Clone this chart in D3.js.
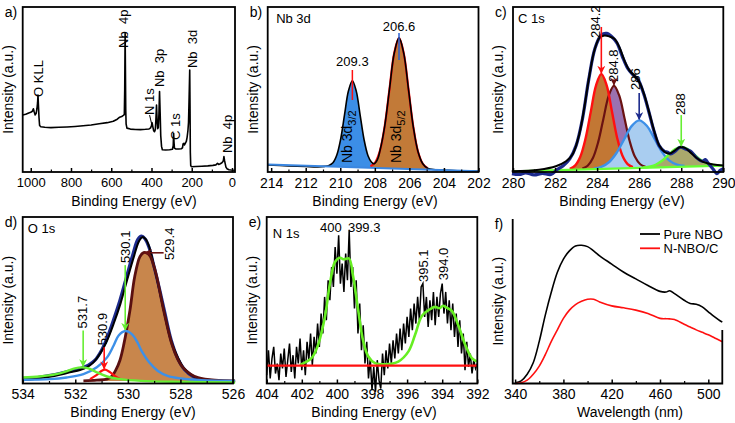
<!DOCTYPE html>
<html><head><meta charset="utf-8">
<script src="https://cdn.jsdelivr.net/npm/d3@7"></script>
<style>
body{margin:0;background:#fff;}
svg{display:block;font-family:"Liberation Sans",Arial,Helvetica,sans-serif;}
</style></head><body>
<svg id="chart" width="735" height="423"></svg>
<script>
// ---------------- DATA ----------------
// (a) XPS survey: [binding energy, intensity]
const surveyData = [[1040,34.5],[1025,35.0],[1010,35.8],[1000,36.2],[992,36.8],[987,38.3],[983,36.5],[978,34.6],[973,35.5],[969,38.5],[966,42],[964,46.7],[962,41],[959,33],[956,28.2],[950,27.4],[930,27.1],[900,26.9],[860,27.1],[820,27.3],[780,27.6],[740,28.0],[700,28.5],[660,29.2],[620,29.9],[590,30.8],[570,32],[558,33.2],[548,33.6],[540,34.3],[535,34.8],[533,50],[531,84],[529.5,62],[528,38],[526,29],[522,26.6],[505,26.0],[480,25.8],[455,25.7],[430,25.9],[412,26.1],[404,26.8],[400,28.2],[397,29.9],[393,27.2],[389,25.0],[385,24.4],[381,25.6],[378,32],[375,40.6],[372,31],[369,26.2],[366,27],[363,35],[360,48.7],[357,36],[354,22],[350,15.5],[346,13.5],[330,13.3],[310,13.5],[296,13.8],[292,16],[290,23.4],[288,18],[286,14.5],[280,14.0],[265,13.9],[252,14.1],[246,14.6],[243,17],[239,17.4],[236,16.4],[232,17.3],[227,18.5],[223,21],[219,25],[216,30],[213,45],[210,61.8],[208.5,40],[207,12],[205,4],[202,3.2],[180,3.3],[150,3.5],[120,3.7],[95,4.0],[80,4.3],[72,5.2],[66,4.6],[58,5.0],[50,5.6],[46,6.2],[43,6.8],[40,9.3],[37,7],[34,5.2],[30,3.0],[25,2.0],[15,1.4],[5,1.2],[-15,1.1]];
const surveyTicks = [1000,800,600,400,200,0];
const surveyMinor = [900,700,500,300,100];
const surveyLabels = ["O KLL","Nb  4p","N 1s","Nb  3p","C 1s","Nb  3d","Nb  4p"];
const surveyLabelE = [964,531,397,360,290,210,40];

// (b) Nb 3d
const nb3dBaseE = [214.2,202];
const nb3dBaseI = [4.5,0.4];
const nb3d32 = [[210.65,3.96],[210.425,5.6],[210.2,10.3],[209.975,20.1],[209.75,34.9],[209.525,49.2],[209.3,55.3],[209.075,49.0],[208.85,34.5],[208.625,19.7],[208.4,9.7],[208.175,4.8],[207.95,3.0]];
const nb3d52 = [[208.25,3.4],[207.975,5.9],[207.7,13.0],[207.425,28.0],[207.15,50.3],[206.875,72.1],[206.6,81.3],[206.325,71.9],[206.05,49.9],[205.775,27.4],[205.5,12.3],[205.225,5.0],[204.95,2.3]];
const nb3dEnv = [[214.2,4.2],[213,3.7],[212,3.3],[211.3,3.1],[210.9,3.4],[210.65,4.0],[210.425,5.6],[210.2,10.3],[209.975,20.1],[209.75,34.9],[209.525,49.2],[209.3,55.3],[209.075,49.0],[208.85,34.5],[208.625,19.7],[208.4,10.0],[208.2,6.0],[208.05,5.0],[207.85,7.5],[207.7,13.0],[207.425,28.0],[207.15,50.3],[206.875,72.1],[206.6,81.3],[206.325,71.9],[206.05,49.9],[205.775,27.4],[205.5,12.3],[205.225,5.0],[204.95,2.3],[204.5,1.4],[203.5,0.9],[202,0.5]];
const nb3dTicks = [214,212,210,208,206,204,202];
const nb3dMinor = [213,211,209,207,205,203];

// (c) C 1s
const c1sBaseE = [280,290];
const c1sBaseI = [0.4,3.9];
const c1s2842 = [[282.7,1.95],[282.95,3.9],[283.2,9.3],[283.45,20.3],[283.7,36.6],[283.95,52.5],[284.2,59.4],[284.45,52.7],[284.7,37.0],[284.95,20.8],[285.2,10.0],[285.45,4.8],[285.7,3.0]];
const c1s2848 = [[283.3,2.1],[283.55,3.8],[283.8,8.5],[284.05,18.1],[284.3,32.3],[284.55,46.2],[284.8,52.2],[285.05,46.4],[285.3,32.7],[285.55,18.6],[285.8,9.2],[286.05,4.7],[286.3,3.2]];
const c1s286 = [[283.84,2.06],[284.2,3.1],[284.56,5.9],[284.92,11.5],[285.28,19.7],[285.64,27.8],[286.0,31.3],[286.36,28.0],[286.72,20.3],[287.08,12.2],[287.44,6.9],[287.8,4.4],[288.16,3.6]];
const c1s288 = [[286.17,2.7],[286.475,3.2],[286.78,4.4],[287.085,6.8],[287.39,10.3],[287.695,13.7],[288.0,15.2],[288.305,13.9],[288.61,10.7],[288.915,7.4],[289.22,5.2],[289.525,4.3],[289.83,4.0]];
const c1sEnv = [[279.94,0.4],[281.24,1.4],[282.04,3.5],[282.52,6.5],[282.83,10.6],[283.15,22.8],[283.39,39.0],[283.63,58.3],[283.87,73.6],[284.11,81.3],[284.35,82.7],[284.59,82.1],[284.82,80.7],[285.06,75.6],[285.3,67.5],[285.54,61.4],[285.78,58.3],[286.02,54.3],[286.26,46.1],[286.5,35.0],[286.74,23.8],[286.97,15.7],[287.21,12.2],[287.45,11.2],[287.69,13.0],[287.93,15.0],[288.17,14.6],[288.41,12.2],[288.73,8.5],[289.04,6.1],[289.52,4.5],[290,3.9]];
const c1sRaw = [[279.95,-1],[280.3,-1.5],[280.6,-0.5],[281.0,-1.8],[281.4,-0.8],[281.8,-1.5],[282.1,1.5],[282.4,4],[282.7,8],[283.0,16],[283.3,32],[283.6,56],[283.9,75],[284.2,83],[284.45,84],[284.7,82],[284.95,78],[285.2,70],[285.45,63],[285.7,59],[285.95,56],[286.2,48],[286.45,37],[286.7,25],[286.95,16],[287.2,12.5],[287.35,12.0],[287.5,11],[287.7,12.5],[287.95,15],[288.2,14],[288.45,12.5],[288.7,9],[289.0,6.5],[289.15,7.5],[289.3,5],[289.5,2],[289.7,-1],[289.85,1],[290,2]];
const c1sTicks = [280,282,284,286,288,290];
const c1sMinor = [281,283,285,287,289];
const c1sPeaks = [284.2,284.8,286,288];

// (d) O 1s
const o1sBaseE = [534,526];
const o1sBaseI = [1.8,1.2];
const o1s5294 = [[531.69,1.6],[531.18,2.0],[530.8,2.6],[530.6,4.5],[530.47,7.7],[530.3,14],[530.15,23.8],[529.92,44],[529.74,64.1],[529.54,76.2],[529.4,78.6],[529.28,78.4],[529.15,76.5],[529.02,71],[528.9,64.1],[528.64,44],[528.33,23.8],[528.1,14.5],[527.91,9.7],[527.6,5.5],[527.33,3.6],[526.69,2.0],[525.92,1.6]];
const o1s5301 = [[534,2.2],[532.97,2.6],[532.33,3.6],[531.69,5.6],[531.18,9.7],[530.79,15.7],[530.54,22.8],[530.35,28.8],[530.09,31.5],[529.83,29.4],[529.64,24.8],[529.45,18.8],[529.19,12.7],[528.87,7.7],[528.49,4.6],[527.97,3.0],[527.2,2.0],[525.92,1.6]];
const o1s5309 = [[531.44,2.6],[531.18,5.2],[530.99,7.7],[530.86,8.3],[530.67,6.7],[530.47,4.2],[530.28,2.6]];
const o1s5317 = [[534,3.6],[533.36,4.2],[532.72,5.6],[532.33,7.3],[532.01,9.1],[531.76,9.7],[531.5,9.1],[531.18,6.7],[530.79,4.2],[530.28,2.6],[529.5,1.6],[528,1.0],[525.92,0.6]];
const o1sEnv = [[534,2.0],[533.62,2.6],[532.97,4.0],[532.59,5.2],[532.21,6.7],[531.82,8.1],[531.56,9.7],[531.31,12.7],[531.05,18.1],[530.79,25.8],[530.54,35.9],[530.28,48.0],[530.03,62.1],[529.77,76.2],[529.58,85.3],[529.45,87.9],[529.32,86.7],[529.19,82.3],[529.0,70.2],[528.81,57.1],[528.62,42.9],[528.36,25.8],[528.1,15.7],[527.85,8.7],[527.46,4.0],[526.95,2.0],[525.92,1.2]];
const o1sRaw = [[534,3],[533.5,3.5],[533,4.8],[532.6,6],[532.2,7.5],[531.8,9],[531.5,11],[531.25,14],[531.0,20],[530.8,27],[530.55,38],[530.3,50],[530.05,64],[529.8,78],[529.62,86.5],[529.48,88.5],[529.35,87],[529.2,82],[529.0,70],[528.8,57],[528.6,43],[528.35,26],[528.1,15],[527.85,8.5],[527.5,4],[527,2],[526,1.2]];
const o1sTicks = [534,532,530,528,526];
const o1sMinor = [533,531,529,527];

// (e) N 1s
const n1sE = [404.0,403.9,403.8,403.7,403.6,403.5,403.4,403.3,403.2,403.1,403.0,402.9,402.8,402.7,402.6,402.5,402.4,402.3,402.2,402.1,402.0,401.9,401.8,401.7,401.6,401.5,401.4,401.3,401.2,401.1,401.0,400.9,400.8,400.7,400.6,400.5,400.4,400.3,400.2,400.1,400.0,399.9,399.8,399.7,399.6,399.5,399.4,399.3,399.2,399.1,399.0,398.9,398.8,398.7,398.6,398.5,398.4,398.3,398.2,398.1,398.0,397.9,397.8,397.7,397.6,397.5,397.4,397.3,397.2,397.1,397.0,396.9,396.8,396.7,396.6,396.5,396.4,396.3,396.2,396.1,396.0,395.9,395.8,395.7,395.6,395.5,395.4,395.3,395.2,395.1,395.0,394.9,394.8,394.7,394.6,394.5,394.4,394.3,394.2,394.1,394.0,393.9,393.8,393.7,393.6,393.5,393.4,393.3,393.2,393.1,393.0,392.9,392.8,392.7,392.6,392.5,392.4,392.3,392.2,392.1,392.0];
const n1sI = [5,20,3,15,22,6,12,2,18,9,21,4,14,24,7,17,3,22,12,27,8,20,5,25,14,30,11,28,18,36,22,42,30,52,38,62,50,70,58,82,66,89,60,72,55,78,62,92,58,70,45,62,30,48,20,35,12,25,3,15,-4,10,-5,14,2,-3,18,5,20,9,24,12,26,15,30,18,33,20,36,24,40,28,45,32,48,36,52,38,58,60,40,52,34,50,38,55,35,52,40,54,60,42,55,36,50,32,48,28,42,22,38,18,30,8,25,10,18,6,14,9,12];
const n1sFit = [[402.11,11.2],[401.45,15.2],[401.07,23.3],[400.69,39.6],[400.4,59.8],[400.11,73.0],[399.83,75.5],[399.6,74.6],[399.31,75.1],[399.07,63.9],[398.78,43.6],[398.5,25.4],[398.21,16.2],[397.83,12.2],[397.26,11.6],[396.5,13.2],[395.92,19.3],[395.54,29.4],[395.16,40.6],[394.69,44.6],[394.4,46],[394.15,45.2],[393.95,46.7],[393.75,45.5],[393.45,43.6],[393.07,34.5],[392.69,23.3],[392.31,15.2],[392.02,13.2]];
const n1sBase = 10.75;
const n1sTicks = [404,402,400,398,396,394,392];
const n1sMinor = [403,401,399,397,395,393];

// (f) photoluminescence
const plWave = [340,345,350,355,360,365,370,375,380,385,390,395,400,405,410,420,430,440,450,460,465,468,472,480,485,490,495,500,505,510,511.6];
const plPure = [0.4,1.6,5.6,12.6,25.6,41.6,55.6,67.6,75.6,80.6,83.6,84.0,83.2,80.6,77.6,72.6,67.6,63.6,59.6,56.0,55.6,56.4,54.6,50.6,48.6,48.2,46.6,43.6,40.6,38.0,37.4];
const plN = [0,0.4,2,5.6,10.6,17.6,25.6,32.6,39.6,44.6,48.0,50.0,51.2,51.2,49.6,47.2,46.0,44.6,42.6,39.6,39.4,39.3,38.9,36.0,34.3,32.6,31.1,29.6,27.8,26.0,25.5];
const plSeries = ["Pure NBO","N-NBO/C"];
const plTicks = [340,380,420,460,500];
const plMinor = [360,400,440,480];

// ---------------- DRAWING ----------------
const svg = d3.select('#chart');
const defs = svg.append('defs');
function marker(id, color){
  defs.append('marker').attr('id',id).attr('viewBox','0 0 10 10').attr('refX',9).attr('refY',5)
    .attr('markerWidth',8).attr('markerHeight',8).attr('markerUnits','userSpaceOnUse').attr('orient','auto')
    .append('path').attr('d','M0,0 L10,5 L0,10 L3,5 Z').attr('fill',color);
}
marker('mRed','#ff1010'); marker('mMaroon','#6a1212'); marker('mNavy','#1c2a8c'); marker('mGreen','#66ee33');

function panel(p){
  const x = d3.scaleLinear().domain(p.xd).range([p.l,p.r]);
  const y = d3.scaleLinear().domain([0,100]).range([p.b,p.t]);
  const data = svg.append('g');
  const ax = svg.append('g').attr('transform',`translate(0,${p.b})`);
  ax.call(d3.axisBottom(x).tickValues(p.major).tickSize(-4).tickPadding(6).tickFormat(d3.format('d')));
  ax.select('.domain').remove();
  ax.attr('font-size',p.fs||14).attr('font-family',null);
  ax.selectAll('line').attr('stroke','#000').attr('stroke-width',1.5);
  ax.selectAll('text').attr('fill','#000');
  const mx = svg.append('g').attr('transform',`translate(0,${p.b})`);
  mx.call(d3.axisBottom(x).tickValues(p.minor).tickSize(-2.5).tickFormat(''));
  mx.select('.domain').remove();
  mx.selectAll('line').attr('stroke','#000').attr('stroke-width',1.2);
  if(p.open){
    svg.append('path').attr('d',`M${p.l},${p.t}V${p.b}H${p.r}V${p.rt}`).attr('fill','none').attr('stroke','#000').attr('stroke-width',1.8);
  } else {
    svg.append('rect').attr('x',p.l).attr('y',p.t).attr('width',p.r-p.l).attr('height',p.b-p.t)
      .attr('fill','none').attr('stroke','#000').attr('stroke-width',1.8);
  }
  svg.append('text').attr('x',p.titleX).attr('y',p.b+33.5).attr('text-anchor','middle').attr('font-size',14).text(p.title);
  svg.append('text').attr('transform',`translate(${p.l-10},${(p.t+p.b)/2}) rotate(-90)`).attr('text-anchor','middle')
    .attr('font-size',14).text('Intensity (a.u.)');
  svg.append('text').attr('x',p.l-18).attr('y',p.t+9.5).attr('font-size',14).text(p.letter);
  const ann = svg.append('g');
  return {x,y,data,ann};
}
function vtext(layer,x,y,str,size){
  return layer.append('text').attr('transform',`translate(${x},${y}) rotate(-90)`).attr('font-size',size||13)
    .style('white-space','pre').text(str);
}
function arrow(layer,x1,y1,x2,y2,color,mk){
  layer.append('line').attr('x1',x1).attr('y1',y1).attr('x2',x2).attr('y2',y2)
    .attr('stroke',color).attr('stroke-width',1.6).attr('marker-end',`url(#${mk})`);
}
const TOPT=7, TOPB=172, BOTT=217, BOTB=383.5;

// ---- (a)
{
  const P = panel({l:22.7,r:235,t:TOPT,b:TOPB,xd:[1040,-15],major:surveyTicks,minor:surveyMinor,fs:13,
    title:'Binding Energy (eV)',titleX:134,letter:'a)'});
  const line = d3.line().x(d=>P.x(d[0])).y(d=>P.y(d[1]));
  P.data.append('path').attr('d',line(surveyData)).attr('fill','none').attr('stroke','#000').attr('stroke-width',1.6).attr('stroke-linejoin','round');
  const offs = [4.7,2.6,2,4.8,6,6.8,7.8];
  const bottoms = [45.5,75.2,34.5,51.5,19.4,63,11.5];
  surveyLabels.forEach((s,i)=>vtext(P.ann,P.x(surveyLabelE[i])+offs[i],P.y(bottoms[i]),s,13));
  P.ann.append('line').attr('x1',P.x(397)-2.5).attr('y1',P.y(34.5)).attr('x2',P.x(397)).attr('y2',P.y(28))
    .attr('stroke','#000').attr('stroke-width',1);
}
// ---- (b)
{
  const P = panel({l:267.7,r:478.5,t:TOPT,b:TOPB,xd:[214.2,202],major:nb3dTicks,minor:nb3dMinor,
    title:'Binding Energy (eV)',titleX:375,letter:'b)'});
  const base = d3.scaleLinear().domain(nb3dBaseE).range(nb3dBaseI);
  const area = d3.area().x(d=>P.x(d[0])).y0(d=>P.y(base(d[0]))).y1(d=>P.y(d[1])).curve(d3.curveCatmullRom);
  const line = d3.line().x(d=>P.x(d[0])).y(d=>P.y(d[1])).curve(d3.curveCatmullRom);
  P.data.append('path').attr('d',area(nb3d32)).attr('fill','#3c8ee6');
  P.data.append('path').attr('d',area(nb3d52)).attr('fill','#c27a38');
  P.data.append('path').attr('d',line(nb3d52)).attr('fill','none').attr('stroke','#ff1010').attr('stroke-width',2.2);
  P.data.append('path').attr('d',line(nb3dEnv)).attr('fill','none').attr('stroke','#000').attr('stroke-width',1.6);
  P.data.append('path').attr('d',line(nb3dBaseE.map((e,i)=>[e,nb3dBaseI[i]]))).attr('fill','none').attr('stroke','#3a86e0').attr('stroke-width',2);
  P.ann.append('text').attr('x',P.x(nb3dTicks[0])+5).attr('y',23).attr('font-size',13).text('Nb 3d');
  P.ann.append('text').attr('x',P.x(209.3)).attr('y',66).attr('text-anchor','middle').attr('font-size',13).text('209.3');
  P.ann.append('line').attr('x1',P.x(209.3)).attr('x2',P.x(209.3)).attr('y1',70).attr('y2',100).attr('stroke','#ff1010').attr('stroke-width',1.5);
  P.ann.append('text').attr('x',P.x(206.6)).attr('y',31).attr('text-anchor','middle').attr('font-size',13).text('206.6');
  P.ann.append('line').attr('x1',P.x(206.6)).attr('x2',P.x(206.6)).attr('y1',33).attr('y2',60).attr('stroke','#2a5fd0').attr('stroke-width',1.5);
  const t1 = vtext(P.ann,P.x(209.3),163,'',14); t1.append('tspan').text('Nb 3d'); t1.append('tspan').attr('font-size',11).attr('dy',4).text('3/2');
  const t2 = vtext(P.ann,P.x(206.6)+2,163,'',14); t2.append('tspan').text('Nb 3d'); t2.append('tspan').attr('font-size',11).attr('dy',4).text('5/2');
}
// ---- (c)
{
  const P = panel({l:513,r:723.3,t:TOPT,b:TOPB,xd:[280,290],major:c1sTicks,minor:c1sMinor,
    title:'Binding Energy (eV)',titleX:622,letter:'c)'});
  const base = d3.scaleLinear().domain(c1sBaseE).range(c1sBaseI);
  const area = d3.area().x(d=>P.x(d[0])).y0(d=>P.y(base(d[0]))).y1(d=>P.y(d[1])).curve(d3.curveCatmullRom);
  const line = d3.line().x(d=>P.x(d[0])).y(d=>P.y(d[1])).curve(d3.curveCatmullRom);
  P.data.append('path').attr('d',area(c1s2848)).attr('fill','#9b72b0');
  P.data.append('path').attr('d',area(c1s2842)).attr('fill','#c27734');
  P.data.append('path').attr('d',area(c1s286)).attr('fill','#a9cdf0');
  P.data.append('path').attr('d',area(c1s288)).attr('fill','#a9a86c');
  P.data.append('path').attr('d',line(c1s2848)).attr('fill','none').attr('stroke','#6a1212').attr('stroke-width',2.2);
  P.data.append('path').attr('d',line(c1s2842)).attr('fill','none').attr('stroke','#ff1010').attr('stroke-width',2.4);
  P.data.append('path').attr('d',line(c1s286)).attr('fill','none').attr('stroke','#3d90e8').attr('stroke-width',2.4);
  P.data.append('path').attr('d',line(c1s288)).attr('fill','none').attr('stroke','#66ff33').attr('stroke-width',2.4);
  P.data.append('path').attr('d',line(c1sBaseE.map((e,i)=>[e,c1sBaseI[i]]))).attr('fill','none').attr('stroke','#66ff33').attr('stroke-width',2.2);
  P.data.append('path').attr('d',line(c1sRaw)).attr('fill','none').attr('stroke','#1c2a8c').attr('stroke-width',3.2);
  P.data.append('path').attr('d',line(c1sEnv)).attr('fill','none').attr('stroke','#000').attr('stroke-width',2);
  P.ann.append('text').attr('x',P.x(280)+5).attr('y',23).attr('font-size',13).text('C 1s');
  const col = ['#ff1010','#6a1212','#1c2a8c','#66ee33'], mk=['mRed','mMaroon','mNavy','mGreen'];
  const tOff=[-1,4,1,4], tBot=[81.2,54.5,49.7,34.5], aTop=[87.9,56,47.9,34.5], aEnd=[59.4,52.2,31.3,15.2];
  c1sPeaks.forEach((e,i)=>{
    vtext(P.ann,P.x(e)+tOff[i],P.y(tBot[i]),String(e),13);
    arrow(P.ann,P.x(e),P.y(aTop[i]),P.x(e),P.y(aEnd[i])-1,col[i],mk[i]);
  });
}
// ---- (d)
{
  const P = panel({l:22.7,r:233,t:BOTT,b:BOTB,xd:[534,526],major:o1sTicks,minor:o1sMinor,
    title:'Binding Energy (eV)',titleX:133,letter:'d)'});
  const base = d3.scaleLinear().domain(o1sBaseE).range(o1sBaseI);
  const area = d3.area().x(d=>P.x(d[0])).y0(d=>P.y(base(d[0]))).y1(d=>P.y(d[1])).curve(d3.curveCatmullRom);
  const line = d3.line().x(d=>P.x(d[0])).y(d=>P.y(d[1])).curve(d3.curveCatmullRom);
  P.data.append('path').attr('d',area(o1s5294)).attr('fill','#c8864c');
  P.data.append('path').attr('d',line(o1sRaw)).attr('fill','none').attr('stroke','#1c2a8c').attr('stroke-width',3.2);
  P.data.append('path').attr('d',line(o1sEnv)).attr('fill','none').attr('stroke','#000').attr('stroke-width',2);
  P.data.append('path').attr('d',line(o1s5294)).attr('fill','none').attr('stroke','#5a1010').attr('stroke-width',2.8);
  P.data.append('path').attr('d',line(o1s5301)).attr('fill','none').attr('stroke','#3d90e8').attr('stroke-width',2.4);
  P.data.append('path').attr('d',line(o1s5309)).attr('fill','none').attr('stroke','#ff1010').attr('stroke-width',2.2);
  P.data.append('path').attr('d',line(o1s5317)).attr('fill','none').attr('stroke','#66ee33').attr('stroke-width',2.4);
  P.ann.append('text').attr('x',P.x(534)+5).attr('y',233).attr('font-size',13).text('O 1s');
  vtext(P.ann,P.x(530.1)+5,P.y(72.3),'530.1',13);
  arrow(P.ann,P.x(530.1),P.y(71.1),P.x(530.1),P.y(31.5)-1,'#66ee33','mGreen');
  vtext(P.ann,P.x(529.4)+30,P.y(74.1),'529.4',13);
  arrow(P.ann,P.x(529.4)+20,P.y(78.5),P.x(529.4)+1,P.y(78.5),'#6a1212','mMaroon');
  vtext(P.ann,P.x(531.7)+3.5,P.y(33.1),'531.7',13);
  arrow(P.ann,P.x(531.7),P.y(31.9),P.x(531.7),P.y(9.7)-1,'#66ee33','mGreen');
  vtext(P.ann,P.x(530.9)+2.5,P.y(22.9),'530.9',13);
  arrow(P.ann,P.x(530.9),P.y(21.7),P.x(530.9),P.y(8.3)-1,'#ff1010','mRed');
}
// ---- (e)
{
  const P = panel({l:266.7,r:477.3,t:BOTT,b:BOTB,xd:[404,392],major:n1sTicks,minor:n1sMinor,
    title:'Binding Energy (eV)',titleX:374,letter:'e)'});
  const line = d3.line().x(d=>P.x(d[0])).y(d=>P.y(d[1]));
  const sm = d3.line().x(d=>P.x(d[0])).y(d=>P.y(d[1])).curve(d3.curveCatmullRom);
  P.data.append('path').attr('d',line(n1sE.map((e,i)=>[e,n1sI[i]]))).attr('fill','none').attr('stroke','#000').attr('stroke-width',1.5);
  P.data.append('path').attr('d',sm(n1sFit)).attr('fill','none').attr('stroke','#66ee22').attr('stroke-width',2.6);
  P.data.append('line').attr('x1',P.x(404)).attr('x2',P.x(392)).attr('y1',P.y(n1sBase)).attr('y2',P.y(n1sBase)).attr('stroke','#ff1010').attr('stroke-width',2.2);
  P.ann.append('text').attr('x',P.x(404)+6).attr('y',238).attr('font-size',13).text('N 1s');
  P.ann.append('text').attr('x',P.x(400)-6).attr('y',232).attr('text-anchor','middle').attr('font-size',13).text('400');
  P.ann.append('text').attr('x',P.x(399.3)+15).attr('y',232).attr('text-anchor','middle').attr('font-size',13).text('399.3');
  vtext(P.ann,P.x(395.1)+5,P.y(61),'395.1',13);
  vtext(P.ann,P.x(394.0)+6,P.y(62),'394.0',13);
}
// ---- (f)
{
  const P = panel({l:512.7,r:722.3,t:219,b:BOTB,xd:[338,511.6],major:plTicks,minor:plMinor,open:true,rt:330,
    title:'Wavelength (nm)',titleX:630,letter:'f)'});
  const line = d3.line().x(d=>P.x(d[0])).y(d=>P.y(d[1])).curve(d3.curveCatmullRom);
  P.data.append('path').attr('d',line(plWave.map((w,i)=>[w,plPure[i]]))).attr('fill','none').attr('stroke','#000').attr('stroke-width',1.6);
  P.data.append('path').attr('d',line(plWave.map((w,i)=>[w,plN[i]]))).attr('fill','none').attr('stroke','#ff1010').attr('stroke-width',1.6);
  const cols = ['#000','#ff1010'];
  plSeries.forEach((s,i)=>{
    const yy = 234 + i*14.3;
    P.ann.append('line').attr('x1',640).attr('x2',660).attr('y1',yy).attr('y2',yy).attr('stroke',cols[i]).attr('stroke-width',1.8);
    P.ann.append('text').attr('x',663.5).attr('y',yy+4.5).attr('font-size',13).text(s);
  });
}
</script>
</body></html>
